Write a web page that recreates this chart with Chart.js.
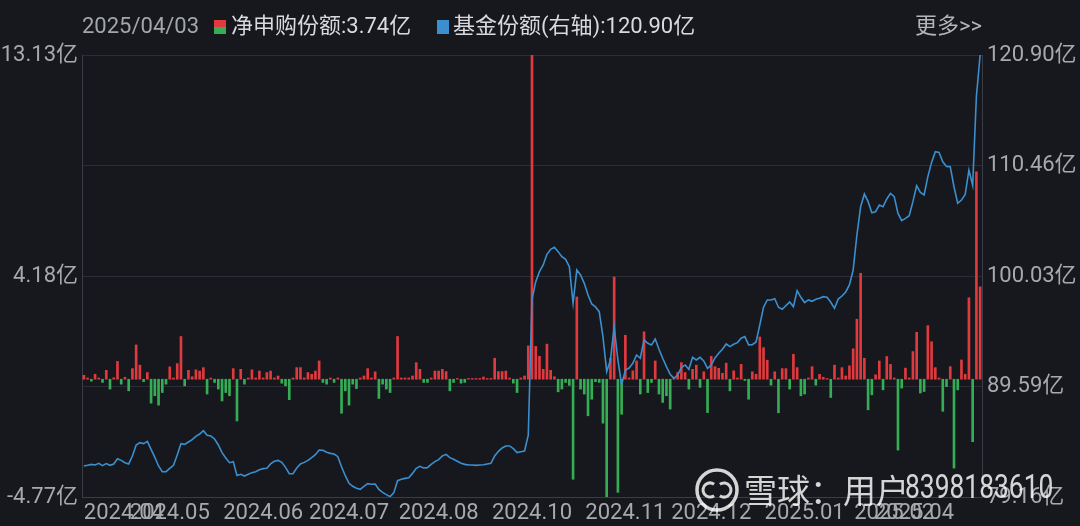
<!DOCTYPE html>
<html>
<head>
<meta charset="utf-8">
<style>
  html, body { margin: 0; padding: 0; background: #16181d; }
  #wrap { width: 1080px; height: 526px; }
</style>
<script src="https://cdn.jsdelivr.net/npm/chart.js@4.4.1/dist/chart.umd.min.js"></script>
</head>
<body>
<div id="wrap"><canvas id="flow-chart" width="1080" height="526"></canvas></div>
<script>
// 净申购份额 (亿) per trading day, 2024-04 -> 2025-04-03
const netFlow = [
  0.16, 0.05, -0.08, 0.2, 0.05, -0.13, 0.36, -0.4, 0.06, 0.72,
  -0.2, 0.08, -0.47, 0.43, 1.39, 0.57, -0.1, 0.27, -0.97, -0.67,
  -1.05, -0.54, -0.2, 0.5, 0.05, 0.63, 1.73, -0.27, 0.36, 0.1,
  0.38, 0.33, 0.47, -0.6, 0.05, -0.13, -0.4, -0.88, -0.54, -0.67,
  0.43, -1.69,
  0.4, -0.2, 0.05, 0.38, 0.05, 0.33, 0.05, 0.27, 0.33, 0.05,
  0.13, -0.16, -0.27, -0.83, 0.05, 0.47, 0.47, 0.05, 0.27, 0.2,
  0.33, 0.74, -0.13, -0.2, 0.05, -0.13, 0.05, -1.38, -0.47, -1.05,
  -0.2, -0.38, 0.05, 0.13, 0.43, 0.05, 0.3, -0.78, -0.2,
  -0.4, -0.54, 0.05, 1.73, 0.05, 0.05, 0.05, 0.13, 0.67, 0.4,
  -0.13, -0.13, 0.05, 0.33, 0.33, 0.4, 0.31, -0.47, -0.13, 0.03,
  -0.16, -0.13, 0.03, 0.03, 0.03, 0.03, 0.09, 0.03, 0.03, 0.85,
  0.31, 0.31, 0.33, 0.05, -0.16, -0.54, 0.05, 0.13, 1.35,
  13.13, 1.33, 0.93, 0.4, 1.42, 0.36, 0.1, -0.51, -0.4, -0.13,
  -0.25, -4.05, 3.33, -0.4, -0.6, -1.48, -0.81, -0.1, -0.13, -1.78,
  -4.77, 0.85, 4.14, -4.58, -1.42, 1.78, 0.05, 0.34, 0.74, -0.6,
  1.92, -0.54, -0.13, 0.74, -0.6, -0.94, -0.67, -1.21, 0.05, 0.27,
  0.67, 0.27, -0.4,
  0.4, 0.57, -0.33, 0.3, -1.35, 0.93, 0.51, 0.44, 0.24, 0.65,
  -0.47, 0.34, 0.05, 0.6, -0.05, -0.81, 0.3, 0.2, 1.71, 1.28,
  0.77, -0.24, 0.3, -1.36, 0.43, 0.43, -0.4, 1.01, 0.47, -0.67,
  -0.6, 0.05, 0.51, -0.24, 0.2, 0.08, 0.03, -0.74, 0.57,
  0.05, 0.47, 0.13, 0.54, 1.23, 2.43, 4.29, 0.85, -1.24, -0.63,
  0.18, 0.74, -0.43, 0.92, 0.6, 0.05, -2.87, -0.36, 0.45, 0.05,
  1.12, 1.9, -0.56, -0.5, 2.17, 1.52, 0.47, 0.05, -1.3, -0.3,
  0.51, -3.6, -0.43, 0.78, 0.2, 3.3, -2.53, 8.4, 3.74
];

// 基金份额 (亿), right axis
const fundShare = [
  82.09, 82.15, 82.24, 82.18, 82.34, 82.12, 82.31, 82.15, 82.28, 82.78,
  82.62, 82.40, 82.28, 83.03, 84.07, 84.29, 84.20, 84.42, 83.66, 82.91,
  82.09, 81.55, 81.55, 81.87, 82.15, 83.12, 84.20, 84.13, 84.35, 84.57,
  84.89, 85.11, 85.42, 84.98, 84.92, 84.64, 84.07, 83.35, 82.84, 82.40,
  82.50, 81.20,
  81.30, 81.14, 81.30, 81.46, 81.55, 81.74, 81.84, 81.87, 82.28, 82.53,
  82.62, 82.43, 81.96, 81.36, 81.36, 81.90, 82.28, 82.43, 82.62, 82.87,
  83.16, 83.60, 83.57, 83.38, 83.28, 83.22, 82.97, 82.02, 81.17, 80.45,
  80.17, 79.98, 79.88, 80.17, 80.42, 80.36, 80.39, 79.88, 79.60,
  79.38, 79.19, 79.57, 80.70, 80.83, 80.92, 80.98, 81.39, 81.87, 82.06,
  81.90, 81.93, 82.24, 82.50, 82.69, 83.03, 83.19, 82.88, 82.72, 82.53,
  82.34, 82.24, 82.18, 82.18, 82.15, 82.18, 82.21, 82.28, 82.34, 83.03,
  83.47, 83.79, 83.98, 83.98, 83.72, 83.35, 83.44, 83.50, 85.00,
  97.83, 99.50, 100.44, 101.07, 102.08, 102.55, 102.74, 102.33, 101.86, 101.61,
  100.91, 97.45, 100.60, 100.13, 99.34, 98.24, 97.39, 97.11, 96.66, 94.30,
  91.00, 92.10, 95.25, 92.10, 89.74, 91.16, 91.34, 91.79, 92.57, 92.26,
  94.00, 93.67, 93.52, 94.08, 93.11, 92.26, 91.47, 90.75, 90.37, 90.68,
  91.38, 91.63, 91.22,
  92.35, 92.10, 92.35, 92.01, 91.31, 91.63, 92.29, 92.73, 93.11, 93.61,
  93.36, 93.58, 93.74, 94.15, 94.31, 93.52, 93.55, 93.80, 95.41, 97.08,
  97.77, 97.77, 97.89, 97.08, 96.89, 97.23, 97.58, 97.14, 98.65, 98.02,
  97.52, 97.77, 97.64, 97.83, 97.93, 98.08, 98.02, 97.55, 96.98,
  97.85, 98.14, 98.52, 99.18, 100.59, 103.90, 106.57, 107.77, 107.05, 106.01,
  106.10, 106.73, 106.57, 107.30, 107.83, 107.52, 105.94, 105.25, 105.47, 105.72,
  107.05, 108.56, 107.93, 107.68, 109.41, 110.76, 111.77, 111.70, 110.82, 110.38,
  110.35, 108.46, 106.89, 107.20, 107.74, 110.04, 108.60, 117.00, 120.90
];

const days = netFlow.map((_, i) => String(i));

// x tick labels and the day index they sit on
const xTickIdx = [0, 23, 48, 71, 95, 120, 145, 168, 193, 217, 233];
const xTickLabels = ['2024.04', '2024.05', '2024.06', '2024.07', '2024.08', '2024.10',
                     '2024.11', '2024.12', '2025.01', '2025.02', '2025.04'];

const leftTicks = [-4.77, 4.18, 13.13];
const rightTicks = [79.16, 89.59, 100.03, 110.46, 120.90];

const headerDate = '2025/04/03';
const netLabel = '净申购份额';
const shareLabel = '基金份额(右轴)';

const RED = '#e0393e';
const GREEN = '#35ad55';
const BLUE = '#3b8fcf';
const GRID = '#2a2d35';
const BORDER = '#3a3d46';
const TXT = '#a7a9ae';
const FONT = 'Roboto, "Noto Sans CJK SC", sans-serif';

const headerPlugin = {
    id: 'header',
    afterDraw(chart) {
        const ctx = chart.ctx;
        const lastFlow = netFlow[netFlow.length - 1];
        const lastShare = fundShare[fundShare.length - 1];
        ctx.save();
        ctx.font = '22px ' + FONT;
        ctx.textBaseline = 'middle';
        ctx.fillStyle = '#a3a6ab';
        ctx.fillText(headerDate, 82, 27);

        ctx.fillStyle = RED;
        ctx.fillRect(214, 20, 12, 7);
        ctx.fillStyle = GREEN;
        ctx.fillRect(214, 27, 12, 7);
        ctx.fillStyle = '#d8dadd';
        ctx.fillText(netLabel + ':' + lastFlow.toFixed(2) + '亿', 231, 27);

        ctx.fillStyle = BLUE;
        ctx.fillRect(437, 20, 12, 14);
        ctx.fillStyle = '#d8dadd';
        ctx.fillText(shareLabel + ':' + lastShare.toFixed(2) + '亿', 453, 27);

        ctx.textAlign = 'right';
        ctx.fillStyle = '#b3b5b9';
        ctx.fillText('更多>>', 982, 27);
        ctx.restore();
    }
};

// 雪球 watermark, bottom right
const watermarkPlugin = {
    id: 'watermark',
    afterDraw(chart) {
        const ctx = chart.ctx;
        ctx.save();
        ctx.strokeStyle = 'rgba(255,255,255,0.82)';
        ctx.fillStyle = 'rgba(255,255,255,0.82)';
        ctx.lineWidth = 3.5;
        ctx.beginPath();
        ctx.arc(717, 490, 20, 0, Math.PI * 2);
        ctx.stroke();
        ctx.lineWidth = 3;
        ctx.beginPath();
        ctx.arc(710, 490, 7, Math.PI * 0.3, Math.PI * 1.7);
        ctx.stroke();
        ctx.beginPath();
        ctx.arc(724, 490, 7, Math.PI * 1.3, Math.PI * 0.7);
        ctx.stroke();

        ctx.textBaseline = 'middle';
        ctx.font = '33px "Noto Sans CJK SC", sans-serif';
        ctx.fillText('雪球：用户', 744, 490);
        ctx.translate(905, 490);
        ctx.scale(0.8, 1);
        ctx.font = '33px Roboto, sans-serif';
        ctx.fillText('8398183610', 0, 0);
        ctx.restore();
    }
};

new Chart(document.getElementById('flow-chart'), {
    type: 'bar',
    data: {
        labels: days,
        datasets: [
            {
                type: 'line',
                label: shareLabel,
                data: fundShare,
                yAxisID: 'y1',
                borderColor: BLUE,
                borderWidth: 1.6,
                pointRadius: 0,
                tension: 0,
                order: 0
            },
            {
                type: 'bar',
                label: netLabel,
                data: netFlow,
                yAxisID: 'y',
                backgroundColor: (c) => (c.raw >= 0 ? RED : GREEN),
                barThickness: 2,
                order: 1
            }
        ]
    },
    options: {
        responsive: false,
        animation: false,
        devicePixelRatio: 1,
        layout: { padding: { top: 55, left: 0, right: 0, bottom: 0 } },
        plugins: {
            legend: { display: false },
            tooltip: { enabled: false }
        },
        scales: {
            x: {
                type: 'category',
                offset: true,
                grid: { display: false, drawTicks: false },
                border: { display: true, color: BORDER },
                ticks: {
                    autoSkip: false,
                    maxRotation: 0,
                    minRotation: 0,
                    align: 'inner',
                    padding: 3,
                    color: TXT,
                    font: { family: FONT, size: 22 },
                    callback: (v, i) => xTickLabels[i]
                },
                afterBuildTicks: (s) => { s.ticks = xTickIdx.map(v => ({ value: v })); },
                afterFit: (s) => { s.height = 29; }
            },
            y: {
                position: 'left',
                min: -4.77,
                max: 13.13,
                grid: { display: false, drawTicks: false },
                border: { display: true, color: BORDER },
                ticks: {
                    padding: 4,
                    color: TXT,
                    font: { family: FONT, size: 22 },
                    callback: (v) => v.toFixed(2) + '亿'
                },
                afterBuildTicks: (s) => { s.ticks = leftTicks.map(v => ({ value: v })); },
                afterFit: (s) => { s.width = 82; }
            },
            y1: {
                position: 'right',
                min: 79.16,
                max: 120.90,
                grid: { color: GRID, drawTicks: false },
                border: { display: true, color: BORDER },
                ticks: {
                    padding: 5,
                    color: TXT,
                    font: { family: FONT, size: 22 },
                    callback: (v) => v.toFixed(2) + '亿'
                },
                afterBuildTicks: (s) => { s.ticks = rightTicks.map(v => ({ value: v })); },
                afterFit: (s) => { s.width = 98; }
            }
        }
    },
    plugins: [headerPlugin, watermarkPlugin]
});
</script>
</body>
</html>
